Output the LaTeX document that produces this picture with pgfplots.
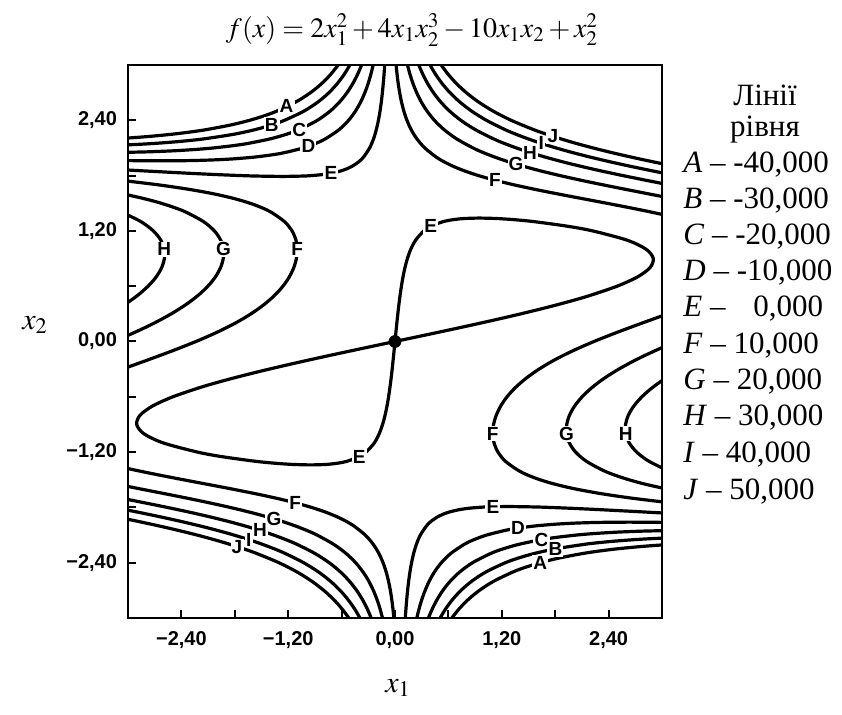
\documentclass[border=0pt]{standalone}
\usepackage{mathptmx}
\usepackage{fontspec}
\setmainfont{Liberation Serif}
\setsansfont{Liberation Sans}
\usepackage{pgfplots}
\pgfplotsset{compat=1.18}

\tikzset{lbl/.style={fill=white, inner sep=0.6pt, text=black,
  font=\sffamily\bfseries\fontsize{9.5}{10}\selectfont}}

\begin{document}
\begin{tikzpicture}
\path[use as bounding box] (-64pt,-48.5pt) rectangle (357pt,309pt);
\begin{axis}[
  scale only axis, width=267pt, height=276.5pt,
  xmin=-3, xmax=3, ymin=-3, ymax=3,
  axis line style={line width=1.4pt},
  tick pos=left, tick align=inside,
  xtick={-2.4,-1.2,0,1.2,2.4}, minor xtick={-1.8,-0.6,0.6,1.8},
  ytick={-2.4,-1.2,0,1.2,2.4}, minor ytick={-1.8,-0.6,0.6,1.8},
  xticklabels={{−2,40},{−1,20},{0,00},{1,20},{2,40}},
  yticklabels={{−2,40},{−1,20},{0,00},{1,20},{2,40}},
  major tick length=4pt, minor tick length=4pt,
  every tick/.style={black, line width=1pt},
  ticklabel style={font=\sffamily\bfseries\fontsize{10}{12}\selectfont},
  xticklabel style={yshift=-3pt},
  yticklabel style={xshift=-2pt},
  cycle list={black,solid,mark=none,line width=1.6pt,smooth\\},
]
% level E = 0, figure eight through the saddle point
\addplot coordinates {(0,0) (0.2447,0.05) (0.4877,0.1) (0.7278,0.15) (0.9632,0.2) (1.1926,0.25) (1.4142,0.3) (1.6266,0.35) (1.8283,0.4) (2.0176,0.45) (2.193,0.5) (2.4959,0.6) (2.7241,0.7) (2.8643,0.8) (2.9025,0.9) (2.8229,1.0) (2.6058,1.1) (2.2196,1.2) (1.9414,1.25) (1.5666,1.3) (1.359,1.32) (1.2196,1.33) (1.1228,1.335) (0.947,1.339) (0.7936,1.335) (0.7252,1.33) (0.641,1.32) (0.5394,1.3) (0.4024,1.25) (0.3244,1.2) (0.2322,1.1) (0.1771,1.0) (0.1395,0.9) (0.1117,0.8) (0.0899,0.7) (0.0721,0.6) (0.057,0.5) (0.0437,0.4) (0.0318,0.3) (0.0208,0.2) (0.0103,0.1) (0,0)};
\addplot coordinates {(0,0) (-0.2447,-0.05) (-0.4877,-0.1) (-0.7278,-0.15) (-0.9632,-0.2) (-1.1926,-0.25) (-1.4142,-0.3) (-1.6266,-0.35) (-1.8283,-0.4) (-2.0176,-0.45) (-2.193,-0.5) (-2.4959,-0.6) (-2.7241,-0.7) (-2.8643,-0.8) (-2.9025,-0.9) (-2.8229,-1.0) (-2.6058,-1.1) (-2.2196,-1.2) (-1.9414,-1.25) (-1.5666,-1.3) (-1.359,-1.32) (-1.2196,-1.33) (-1.1228,-1.335) (-0.947,-1.339) (-0.7936,-1.335) (-0.7252,-1.33) (-0.641,-1.32) (-0.5394,-1.3) (-0.4024,-1.25) (-0.3244,-1.2) (-0.2322,-1.1) (-0.1771,-1.0) (-0.1395,-0.9) (-0.1117,-0.8) (-0.0899,-0.7) (-0.0721,-0.6) (-0.057,-0.5) (-0.0437,-0.4) (-0.0318,-0.3) (-0.0208,-0.2) (-0.0103,-0.1) (0,0)};
% level E, outer branches
\addplot coordinates {(-3.2712,1.875) (-2.8026,1.85) (-2.3113,1.825) (-1.9837,1.81) (-1.7247,1.8) (-1.558,1.795) (-1.266,1.791) (-1.034,1.795) (-0.9393,1.8) (-0.8257,1.81) (-0.7205,1.825) (-0.6106,1.85) (-0.5374,1.875) (-0.4833,1.9) (-0.4068,1.95) (-0.3542,2.0) (-0.285,2.1) (-0.2407,2.2) (-0.2095,2.3) (-0.1863,2.4) (-0.1682,2.5) (-0.1536,2.6) (-0.1417,2.7) (-0.1317,2.8) (-0.1231,2.9) (-0.1157,3.0)};
\addplot coordinates {(3.2712,-1.875) (2.8026,-1.85) (2.3113,-1.825) (1.9837,-1.81) (1.7247,-1.8) (1.558,-1.795) (1.266,-1.791) (1.034,-1.795) (0.9393,-1.8) (0.8257,-1.81) (0.7205,-1.825) (0.6106,-1.85) (0.5374,-1.875) (0.4833,-1.9) (0.4068,-1.95) (0.3542,-2.0) (0.285,-2.1) (0.2407,-2.2) (0.2095,-2.3) (0.1863,-2.4) (0.1682,-2.5) (0.1536,-2.6) (0.1417,-2.7) (0.1317,-2.8) (0.1231,-2.9) (0.1157,-3.0)};
% level D = -10
\addplot coordinates {(-3.148,1.965) (-2.9393,1.962) (-2.630,1.9601) (-2.3559,1.962) (-2.2015,1.965) (-2.0422,1.97) (-1.838,1.98) (-1.5858,2.0) (-1.3824,2.025) (-1.2362,2.05) (-1.0305,2.1) (-0.8873,2.15) (-0.7797,2.2) (-0.6262,2.3) (-0.5209,2.4) (-0.4438,2.5) (-0.385,2.6) (-0.3387,2.7) (-0.3013,2.8) (-0.2707,2.9) (-0.2451,3.0)};
\addplot coordinates {(3.148,-1.965) (2.9393,-1.962) (2.630,-1.9601) (2.3559,-1.962) (2.2015,-1.965) (2.0422,-1.97) (1.838,-1.98) (1.5858,-2.0) (1.3824,-2.025) (1.2362,-2.05) (1.0305,-2.1) (0.8873,-2.15) (0.7797,-2.2) (0.6262,-2.3) (0.5209,-2.4) (0.4438,-2.5) (0.385,-2.6) (0.3387,-2.7) (0.3013,-2.8) (0.2707,-2.9) (0.2451,-3.0)};
% level C = -20
\addplot coordinates {(-3.2074,2.05) (-2.8883,2.055) (-2.7091,2.06) (-2.4665,2.07) (-2.2205,2.085) (-2.0405,2.1) (-1.8158,2.125) (-1.6456,2.15) (-1.3954,2.2) (-1.2147,2.25) (-1.0754,2.3) (-0.8717,2.4) (-0.7283,2.5) (-0.6214,2.6) (-0.5387,2.7) (-0.473,2.8) (-0.4195,2.9) (-0.3754,3.0)};
\addplot coordinates {(3.2074,-2.05) (2.8883,-2.055) (2.7091,-2.06) (2.4665,-2.07) (2.2205,-2.085) (2.0405,-2.1) (1.8158,-2.125) (1.6456,-2.15) (1.3954,-2.2) (1.2147,-2.25) (1.0754,-2.3) (0.8717,-2.4) (0.7283,-2.5) (0.6214,-2.6) (0.5387,-2.7) (0.473,-2.8) (0.4195,-2.9) (0.3754,-3.0)};
% level B = -30
\addplot coordinates {(-3.2401,2.125) (-3.0917,2.13) (-2.8642,2.14) (-2.689,2.15) (-2.4815,2.165) (-2.3152,2.18) (-2.1344,2.2) (-1.8019,2.25) (-1.5659,2.3) (-1.3854,2.35) (-1.2411,2.4) (-1.0224,2.5) (-0.8634,2.6) (-0.7421,2.7) (-0.6467,2.8) (-0.5697,2.9) (-0.5066,3.0)};
\addplot coordinates {(3.2401,-2.125) (3.0917,-2.13) (2.8642,-2.14) (2.689,-2.15) (2.4815,-2.165) (2.3152,-2.18) (2.1344,-2.2) (1.8019,-2.25) (1.5659,-2.3) (1.3854,-2.35) (1.2411,-2.4) (1.0224,-2.5) (0.8634,-2.6) (0.7421,-2.7) (0.6467,-2.8) (0.5697,-2.9) (0.5066,-3.0)};
% level A = -40
\addplot coordinates {(-3.1276,2.2) (-2.9626,2.21) (-2.7589,2.225) (-2.4928,2.25) (-2.2838,2.275) (-2.112,2.3) (-1.8408,2.35) (-1.6325,2.4) (-1.4653,2.45) (-1.3273,2.5) (-1.1112,2.6) (-0.949,2.7) (-0.8225,2.8) (-0.7213,2.9) (-0.6387,3.0)};
\addplot coordinates {(3.1276,-2.2) (2.9626,-2.21) (2.7589,-2.225) (2.4928,-2.25) (2.2838,-2.275) (2.112,-2.3) (1.8408,-2.35) (1.6325,-2.4) (1.4653,-2.45) (1.3273,-2.5) (1.1112,-2.6) (0.949,-2.7) (0.8225,-2.8) (0.7213,-2.9) (0.6387,-3.0)};
% level F = 10
\addplot coordinates {(3.091,-1.75) (2.662,-1.7) (2.3097,-1.65) (2.027,-1.6) (1.8038,-1.55) (1.629,-1.5) (1.4926,-1.45) (1.387,-1.4) (1.241,-1.3) (1.157,-1.2) (1.113,-1.1) (1.098,-1.0) (1.108,-0.9) (1.138,-0.8) (1.188,-0.7) (1.259,-0.6) (1.353,-0.5) (1.472,-0.4) (1.618,-0.3) (1.793,-0.2) (2.0,-0.1) (2.236,0) (2.498,0.1) (2.777,0.2) (3.064,0.3)};
\addplot coordinates {(-3.091,1.75) (-2.662,1.7) (-2.3097,1.65) (-2.027,1.6) (-1.8038,1.55) (-1.629,1.5) (-1.4926,1.45) (-1.387,1.4) (-1.241,1.3) (-1.157,1.2) (-1.113,1.1) (-1.098,1.0) (-1.108,0.9) (-1.138,0.8) (-1.188,0.7) (-1.259,0.6) (-1.353,0.5) (-1.472,0.4) (-1.618,0.3) (-1.793,0.2) (-2.0,0.1) (-2.236,0) (-2.498,-0.1) (-2.777,-0.2) (-3.064,-0.3)};
\addplot coordinates {(3.134,1.35) (2.899,1.4) (2.6454,1.45) (2.379,1.5) (2.106,1.55) (1.835,1.6) (1.5755,1.65) (1.3358,1.7) (1.1222,1.75) (0.9383,1.8) (0.7836,1.85) (0.6555,1.9) (0.5504,1.95) (0.4641,2.0) (0.3345,2.1) (0.2448,2.2) (0.1809,2.3) (0.1343,2.4) (0.0995,2.5) (0.0729,2.6) (0.0523,2.7) (0.0361,2.8) (0.0232,2.9) (0.0128,3.0)};
\addplot coordinates {(-3.134,-1.35) (-2.899,-1.4) (-2.6454,-1.45) (-2.379,-1.5) (-2.106,-1.55) (-1.835,-1.6) (-1.5755,-1.65) (-1.3358,-1.7) (-1.1222,-1.75) (-0.9383,-1.8) (-0.7836,-1.85) (-0.6555,-1.9) (-0.5504,-1.95) (-0.4641,-2.0) (-0.3345,-2.1) (-0.2448,-2.2) (-0.1809,-2.3) (-0.1343,-2.4) (-0.0995,-2.5) (-0.0729,-2.6) (-0.0523,-2.7) (-0.0361,-2.8) (-0.0232,-2.9) (-0.0128,-3.0)};
% level G = 20
\addplot coordinates {(3.162,0) (2.922,-0.1) (2.705,-0.2) (2.514,-0.3) (2.3498,-0.4) (2.2128,-0.5) (2.1025,-0.6) (2.0185,-0.7) (1.9608,-0.8) (1.9298,-0.9) (1.9278,-1.0) (1.9588,-1.1) (2.0293,-1.2) (2.1508,-1.3) (2.341,-1.4) (2.4701,-1.45) (2.6275,-1.5) (2.8189,-1.55) (3.0505,-1.6)};
\addplot coordinates {(-3.162,0) (-2.922,0.1) (-2.705,0.2) (-2.514,0.3) (-2.3498,0.4) (-2.2128,0.5) (-2.1025,0.6) (-2.0185,0.7) (-1.9608,0.8) (-1.9298,0.9) (-1.9278,1.0) (-1.9588,1.1) (-2.0293,1.2) (-2.1508,1.3) (-2.341,1.4) (-2.4701,1.45) (-2.6275,1.5) (-2.8189,1.55) (-3.0505,1.6)};
\addplot coordinates {(3.1211,1.55) (2.8585,1.6) (2.5949,1.65) (2.336,1.7) (2.0876,1.75) (1.8545,1.8) (1.6401,1.85) (1.4468,1.9) (1.2746,1.95) (1.123,2.0) (0.9909,2.05) (0.876,2.1) (0.69,2.2) (0.5496,2.3) (0.4425,2.4) (0.3598,2.5) (0.2949,2.6) (0.2434,2.7) (0.202,2.8) (0.1682,2.9) (0.1405,3.0)};
\addplot coordinates {(-3.1211,-1.55) (-2.8585,-1.6) (-2.5949,-1.65) (-2.336,-1.7) (-2.0876,-1.75) (-1.8545,-1.8) (-1.6401,-1.85) (-1.4468,-1.9) (-1.2746,-1.95) (-1.123,-2.0) (-0.9909,-2.05) (-0.876,-2.1) (-0.69,-2.2) (-0.5496,-2.3) (-0.4425,-2.4) (-0.3598,-2.5) (-0.2949,-2.6) (-0.2434,-2.7) (-0.202,-2.8) (-0.1682,-2.9) (-0.1405,-3.0)};
% level H = 30
\addplot coordinates {(3.2113,-0.3) (3.0385,-0.4) (2.8925,-0.5) (2.7743,-0.6) (2.6838,-0.7) (2.6223,-0.8) (2.591,-0.9) (2.5928,-1.0) (2.6318,-1.1) (2.7153,-1.2) (2.854,-1.3) (3.064,-1.4)};
\addplot coordinates {(-3.2113,0.3) (-3.0385,0.4) (-2.8925,0.5) (-2.7743,0.6) (-2.6838,0.7) (-2.6223,0.8) (-2.591,0.9) (-2.5928,1.0) (-2.6318,1.1) (-2.7153,1.2) (-2.854,1.3) (-3.064,1.4)};
\addplot coordinates {(3.078,1.7) (2.8154,1.75) (2.5608,1.8) (2.3184,1.85) (2.0913,1.9) (1.8816,1.95) (1.6905,2.0) (1.5178,2.05) (1.3633,2.1) (1.2257,2.15) (1.1036,2.2) (0.8996,2.3) (0.7396,2.4) (0.6133,2.5) (0.5127,2.6) (0.4318,2.7) (0.366,2.8) (0.3121,2.9) (0.2674,3.0)};
\addplot coordinates {(-3.078,-1.7) (-2.8154,-1.75) (-2.5608,-1.8) (-2.3184,-1.85) (-2.0913,-1.9) (-1.8816,-1.95) (-1.6905,-2.0) (-1.5178,-2.05) (-1.3633,-2.1) (-1.2257,-2.15) (-1.1036,-2.2) (-0.8996,-2.3) (-0.7396,-2.4) (-0.6133,-2.5) (-0.5127,-2.6) (-0.4318,-2.7) (-0.366,-2.8) (-0.3121,-2.9) (-0.2674,-3.0)};
% level I = 40
\addplot coordinates {(3.1575,1.8) (2.8979,1.85) (2.6495,1.9) (2.4149,1.95) (2.1963,2.0) (1.9944,2.05) (1.8099,2.1) (1.6425,2.15) (1.4914,2.2) (1.3555,2.25) (1.2337,2.3) (1.0267,2.4) (0.8605,2.5) (0.7264,2.6) (0.6176,2.7) (0.5284,2.8) (0.4548,2.9) (0.3935,3.0)};
\addplot coordinates {(-3.1575,-1.8) (-2.8979,-1.85) (-2.6495,-1.9) (-2.4149,-1.95) (-2.1963,-2.0) (-1.9944,-2.05) (-1.8099,-2.1) (-1.6425,-2.15) (-1.4914,-2.2) (-1.3555,-2.25) (-1.2337,-2.3) (-1.0267,-2.4) (-0.8605,-2.5) (-0.7264,-2.6) (-0.6176,-2.7) (-0.5284,-2.8) (-0.4548,-2.9) (-0.3935,-3.0)};
% level J = 50
\addplot coordinates {(3.1488,1.9) (2.8961,1.95) (2.6568,2.0) (2.4327,2.05) (2.2246,2.1) (2.0331,2.15) (1.8578,2.2) (1.6984,2.25) (1.5538,2.3) (1.3048,2.4) (1.1019,2.5) (0.9364,2.6) (0.8008,2.7) (0.689,2.8) (0.5963,2.9) (0.5187,3.0)};
\addplot coordinates {(-3.1488,-1.9) (-2.8961,-1.95) (-2.6568,-2.0) (-2.4327,-2.05) (-2.2246,-2.1) (-2.0331,-2.15) (-1.8578,-2.2) (-1.6984,-2.25) (-1.5538,-2.3) (-1.3048,-2.4) (-1.1019,-2.5) (-0.9364,-2.6) (-0.8008,-2.7) (-0.689,-2.8) (-0.5963,-2.9) (-0.5187,-3.0)};
% saddle point
\addplot[only marks, mark=*, mark size=3pt, black] coordinates {(0,0)};
% inline level letters
\node[lbl] at (axis cs:-1.219,2.55) {A};
\node[lbl] at (axis cs:-1.3854,2.35) {B};
\node[lbl] at (axis cs:-1.075,2.3) {C};
\node[lbl] at (axis cs:-0.973,2.12) {D};
\node[lbl] at (axis cs:-0.72,1.825) {E};
\node[lbl] at (axis cs:1.10,-1.794) {E};
\node[lbl] at (axis cs:1.382,-2.025) {D};
\node[lbl] at (axis cs:1.6456,-2.15) {C};
\node[lbl] at (axis cs:1.8019,-2.25) {B};
\node[lbl] at (axis cs:1.6325,-2.4) {A};
\node[lbl] at (axis cs:1.1222,1.75) {F};
\node[lbl] at (axis cs:1.3607,1.925) {G};
\node[lbl] at (axis cs:1.5178,2.05) {H};
\node[lbl] at (axis cs:1.6425,2.15) {I};
\node[lbl] at (axis cs:1.775,2.226) {J};
\node[lbl] at (axis cs:-1.1222,-1.75) {F};
\node[lbl] at (axis cs:-1.3607,-1.925) {G};
\node[lbl] at (axis cs:-1.5178,-2.05) {H};
\node[lbl] at (axis cs:-1.6425,-2.15) {I};
\node[lbl] at (axis cs:-1.775,-2.226) {J};
\node[lbl] at (axis cs:0.4024,1.25) {E};
\node[lbl] at (axis cs:-0.4024,-1.25) {E};
\node[lbl] at (axis cs:1.098,-1.0) {F};
\node[lbl] at (axis cs:1.9278,-1.0) {G};
\node[lbl] at (axis cs:2.5928,-1.0) {H};
\node[lbl] at (axis cs:-1.098,1.0) {F};
\node[lbl] at (axis cs:-1.9278,1.0) {G};
\node[lbl] at (axis cs:-2.5928,1.0) {H};
\end{axis}
% title and axis names
\node[font=\fontsize{14}{16}\selectfont] at (142pt,294pt) {$f(x)=2x_1^2+4x_1x_2^3-10x_1x_2+x_2^2$};
\node[font=\fontsize{15}{17}\selectfont] at (135pt,-35pt) {$x_1$};
\node[font=\fontsize{15}{17}\selectfont] at (-46.5pt,146.5pt) {$x_2$};
% list of levels
\begin{scope}[every node/.style={font=\fontsize{15.5}{18}\selectfont, inner sep=0pt}]
\node at (318.5pt,261.5pt) {Лінії};
\node at (318.5pt,244pt) {рівня};
\node[anchor=west] at (277.5pt,226.5pt) {\textit{A} – -40,000};
\node[anchor=west] at (277.5pt,208.5pt) {\textit{B} – -30,000};
\node[anchor=west] at (277.5pt,190.5pt) {\textit{C} – -20,000};
\node[anchor=west] at (277.5pt,172.5pt) {\textit{D} – -10,000};
\node[anchor=west] at (277.5pt,154.5pt) {\textit{E} –\hspace{0.9em}0,000};
\node[anchor=west] at (277.5pt,136pt) {\textit{F} – 10,000};
\node[anchor=west] at (277.5pt,118pt) {\textit{G} – 20,000};
\node[anchor=west] at (277.5pt,100pt) {\textit{H} – 30,000};
\node[anchor=west] at (277.5pt,81.5pt) {\textit{I} – 40,000};
\node[anchor=west] at (277.5pt,63pt) {\textit{J} – 50,000};
\end{scope}
\end{tikzpicture}
\end{document}
